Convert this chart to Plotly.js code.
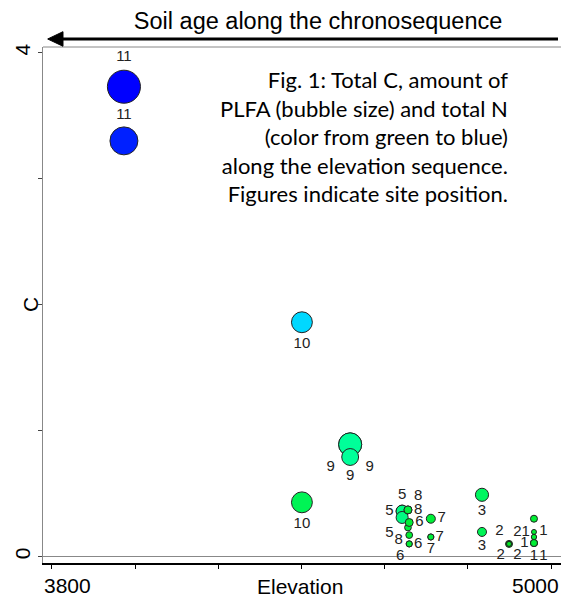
<!DOCTYPE html>
<html>
<head>
<meta charset="utf-8">
<script src="https://cdn.plot.ly/plotly-3.0.1.min.js"></script>
<style>html,body{margin:0;padding:0;background:#fff;}#chart{width:561px;height:598px;}</style>
</head>
<body>
<div id="chart"></div>
<script>
// ---- data ----
const site = [11,11,10,10,9,9,9,5,5,5,8,8,8,6,6,6,6,7,7,7,3,3,2,2,2,2,1,1,1,1,1,1];
const elevation = [3973,3973,4401,4401,4517,4517,4517,4642,4642,4642,4656,4656,4656,4659,4659,4659,4659,4711,4711,4711,4834,4834,4899,4899,4899,4899,4959,4959,4959,4959,4959,4959];
const totalC = [3.73,3.30,1.86,0.43,0.89,0.89,0.79,0.36,0.36,0.31,0.37,0.37,0.23,0.27,0.17,0.10,0.10,0.30,0.155,0.155,0.49,0.195,0.10,0.10,0.10,0.10,0.30,0.195,0.155,0.107,0.107,0.107];
const plfa = [116,84,48,48,58,58,32,17,17,17,8,8,6,8,6,5,5,10,5,5,20,10,6.4,3.6,3.6,3.6,6.4,3.6,4,6.4,6.4,6.4];
const totalN = [0.30,0.27,0.15,0.045,0.075,0.075,0.075,0.065,0.065,0.065,0.035,0.035,0.035,0.03,0.03,0.03,0.03,0.032,0.032,0.032,0.05,0.045,0.02,0.02,0.02,0.02,0.03,0.03,0.03,0.03,0.03,0.03];
const xTickVals = [3800,4000,4200,4400,4600,4800,5000];
const xTickLabels = ['3800','','','','','','5000'];
const yTickVals = [0,1,2,3,4];
const yTickLabels = ['0','','','','4'];

// label placement for each bubble's site number (presentation only)
const labelPlacement = ['top center','top center','bottom center','bottom center',
  'bottom left','bottom right','bottom center',
  'top center','middle left','bottom left',
  'top right','middle right','bottom left',
  'middle right','none','middle right','bottom left',
  'middle right','middle right','bottom center',
  'bottom center','bottom center',
  'top left','top right','bottom left','bottom right',
  'bottom right','middle left','none','middle left','bottom center','bottom right'];

const labels = site.map((s,i) => labelPlacement[i] === 'none' ? '' : String(s));
const positions = labelPlacement.map(p => p === 'none' ? 'middle center' : p);
const sizes = plfa.map(v => Math.sqrt(v * 10) - 1);

const trace = {
  type: 'scatter',
  mode: 'markers+text',
  x: elevation,
  y: totalC,
  text: labels,
  textposition: positions,
  textfont: {family: 'Liberation Sans, Arial, sans-serif', size: 15, color: '#222'},
  cliponaxis: false,
  marker: {
    size: sizes,
    sizemode: 'diameter',
    color: totalN,
    cmin: 0, cmax: 0.3,
    colorscale: [[0,'#00dd00'],[0.1,'#00ee33'],[0.25,'#00ff99'],[0.5,'#00d8ff'],[0.8,'#0040ff'],[1,'#0000ff']],
    showscale: false,
    line: {color: '#222', width: 1},
    opacity: 1
  },
  hoverinfo: 'x+y'
};

const font = 'Liberation Sans, Arial, sans-serif';
const layout = {
  width: 561, height: 598,
  margin: {l: 43, r: 0, t: 47, b: 35, pad: 0},
  paper_bgcolor: '#fff', plot_bgcolor: '#fff',
  showlegend: false,
  font: {family: font, color: '#000'},
  title: {text: 'Soil age along the chronosequence', font: {family: font, size: 23.5, color: '#000'},
          x: 0.567, xref: 'container', xanchor: 'center', y: 0.965, yref: 'container', yanchor: 'middle'},
  xaxis: {
    range: [3778.4, 5024], showgrid: false, zeroline: false,
    showline: true, linecolor: '#000', linewidth: 1.5,
    tickmode: 'array', tickvals: xTickVals, ticktext: xTickLabels.map(() => ''),
    ticks: 'outside', ticklen: 4, tickcolor: '#000', tickwidth: 1,
    fixedrange: true
  },
  yaxis: {
    range: [-0.0516, 4.0453], showgrid: false,
    zeroline: true, zerolinecolor: '#888', zerolinewidth: 1,
    showline: true, linecolor: '#888', linewidth: 1,
    tickmode: 'array', tickvals: yTickVals, ticktext: yTickLabels, tickangle: -90,
    ticks: 'outside', ticklen: 4, tickcolor: '#444', tickwidth: 1,
    tickfont: {family: font, size: 21, color: '#000'},
    fixedrange: true
  },
  shapes: [
    {type: 'line', xref: 'paper', yref: 'paper', x0: 0, x1: 1, y0: 1, y1: 1, line: {color: '#888', width: 1}},
    {type: 'line', xref: 'paper', yref: 'paper', x0: 0.0367, x1: 0.9942, y0: 1.0155, y1: 1.0155, line: {color: '#000', width: 3}},
    {type: 'path', xref: 'paper', yref: 'paper', path: 'M 0.0091 1.0155 L 0.0386 1.0297 L 0.0386 1.0014 Z', fillcolor: '#000', line: {color: '#000', width: 1}}
  ],
  annotations: [
    {text: xTickLabels[0], xref: 'x', yref: 'paper', x: xTickVals[0], y: 0, xshift: 16, yshift: -22,
     showarrow: false, xanchor: 'center', yanchor: 'middle', font: {family: font, size: 21, color: '#000'}},
    {text: xTickLabels[xTickLabels.length-1], xref: 'x', yref: 'paper', x: xTickVals[xTickVals.length-1], y: 0, xshift: -16, yshift: -22,
     showarrow: false, xanchor: 'center', yanchor: 'middle', font: {family: font, size: 21, color: '#000'}},
    {text: 'Elevation', xref: 'paper', yref: 'paper', x: 0.496, y: 0, yshift: -23,
     showarrow: false, xanchor: 'center', yanchor: 'middle', font: {family: font, size: 21, color: '#000'}},
    {text: 'C', xref: 'paper', yref: 'paper', x: 0, y: 0.5, xshift: -13, textangle: -90,
     showarrow: false, xanchor: 'center', yanchor: 'middle', font: {family: font, size: 21, color: '#000'}},
    {text: 'Fig. 1: Total C, amount of<br>PLFA (bubble size) and total N<br>(color from green to blue)<br>along the elevation sequence.<br>Figures indicate site position.',
     xref: 'paper', yref: 'paper', x: 0.9015, y: 0.8275, xanchor: 'right', yanchor: 'middle', align: 'right',
     showarrow: false, font: {family: 'Lato, Open Sans, sans-serif', size: 22, color: '#000'}}
  ]
};

Plotly.newPlot('chart', [trace], layout, {displayModeBar: false, staticPlot: true});
</script>
</body>
</html>
